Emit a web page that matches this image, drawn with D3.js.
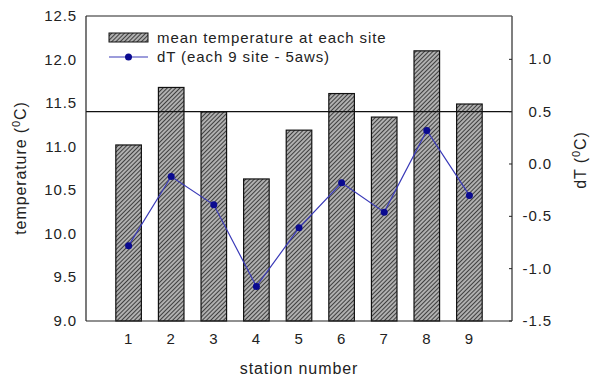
<!DOCTYPE html>
<html>
<head>
<meta charset="utf-8">
<script src="https://cdn.jsdelivr.net/npm/d3@7"></script>
<style>
  body { margin: 0; background: #fff; }
  text { font-family: "Liberation Sans", Arial, sans-serif; fill: #222; letter-spacing: 0.9px; }
</style>
</head>
<body>
<div id="chart"></div>
<script>
"use strict";

const stations = [1, 2, 3, 4, 5, 6, 7, 8, 9];
const meanTemp = [11.02, 11.68, 11.40, 10.63, 11.19, 11.61, 11.34, 12.10, 11.49];
const dT = [-0.78, -0.12, -0.39, -1.17, -0.61, -0.18, -0.46, 0.32, -0.30];
const leftTicks = [9.0, 9.5, 10.0, 10.5, 11.0, 11.5, 12.0, 12.5];
const rightTicks = [-1.5, -1.0, -0.5, 0.0, 0.5, 1.0];
const refLine = 0.5;

const size = { width: 597, height: 380, left: 86, right: 512, top: 16, bottom: 321 };

const svg = d3.select("#chart").append("svg")
    .attr("width", size.width)
    .attr("height", size.height);

// hatch pattern for bars
const pat = svg.append("defs").append("pattern")
    .attr("id", "hatch")
    .attr("patternUnits", "userSpaceOnUse")
    .attr("width", 3).attr("height", 3)
    .attr("patternTransform", "rotate(45)");
pat.append("rect").attr("width", 3).attr("height", 3).attr("fill", "#b0b0b0");
pat.append("line").attr("x1", 0).attr("y1", 0).attr("x2", 0).attr("y2", 3)
    .attr("stroke", "#2a2a2a").attr("stroke-width", 1.7);

const x = d3.scaleLinear().domain([0, 10]).range([size.left, size.right]);
const yL = d3.scaleLinear().domain([9, 12.5]).range([size.bottom, size.top]);
const yR = d3.scaleLinear().domain([-1.5, 1.414]).range([size.bottom, size.top]);
const barW = x(0.6) - x(0);

// bars
svg.selectAll(".bar")
    .data(stations)
    .enter()
    .append("rect")
    .attr("class", "bar")
    .attr("x", (d) => x(d) - barW / 2)
    .attr("y", (d, i) => yL(meanTemp[i]))
    .attr("width", barW)
    .attr("height", (d, i) => yL(9) - yL(meanTemp[i]))
    .attr("fill", "url(#hatch)")
    .attr("stroke", "#111")
    .attr("stroke-width", 1.2);

// reference line
svg.append("line")
    .attr("x1", size.left).attr("x2", size.right)
    .attr("y1", yR(refLine)).attr("y2", yR(refLine))
    .attr("stroke", "#111").attr("stroke-width", 1.2);

// frame
svg.append("line").attr("x1", size.left).attr("x2", size.right)
    .attr("y1", size.top).attr("y2", size.top).attr("stroke", "#222").attr("stroke-width", 1.2);
svg.append("line").attr("x1", size.left).attr("x2", size.right)
    .attr("y1", size.bottom).attr("y2", size.bottom).attr("stroke", "#222").attr("stroke-width", 1.2);
svg.append("line").attr("x1", size.left).attr("x2", size.left)
    .attr("y1", size.top).attr("y2", size.bottom).attr("stroke", "#222").attr("stroke-width", 1.2);
svg.append("line").attr("x1", size.right).attr("x2", size.right)
    .attr("y1", size.top).attr("y2", size.bottom).attr("stroke", "#555").attr("stroke-width", 1.5);

// dT line
const line = d3.line()
    .x((d) => x(d))
    .y((d, i) => yR(dT[i]));
svg.append("path")
    .datum(stations)
    .attr("d", line)
    .attr("fill", "none")
    .attr("stroke", "#3a3ab8")
    .attr("stroke-width", 1.2);
svg.selectAll(".dot")
    .data(stations)
    .enter()
    .append("circle")
    .attr("cx", (d) => x(d))
    .attr("cy", (d, i) => yR(dT[i]))
    .attr("r", 3.5)
    .attr("fill", "#0a0a90");

// left axis labels
svg.selectAll(".ltick")
    .data(leftTicks)
    .enter()
    .append("text")
    .attr("x", 77)
    .attr("y", (d) => yL(d) + 5)
    .attr("text-anchor", "end")
    .style("font-size", "15px")
    .text((d) => d3.format(".1f")(d));

// right axis ticks and labels
svg.selectAll(".rtickmark")
    .data(rightTicks)
    .enter()
    .append("line")
    .attr("x1", size.right - 3).attr("x2", size.right)
    .attr("y1", (d) => yR(d)).attr("y2", (d) => yR(d))
    .attr("stroke", "#222");
svg.selectAll(".rtick")
    .data(rightTicks)
    .enter()
    .append("text")
    .attr("x", 552)
    .attr("y", (d) => yR(d) + 5)
    .attr("text-anchor", "end")
    .style("font-size", "15px")
    .text((d) => d3.format(".1f")(d).replace("−", "-"));

// bottom labels
svg.selectAll(".btick")
    .data(stations)
    .enter()
    .append("text")
    .attr("x", (d) => x(d))
    .attr("y", 344)
    .attr("text-anchor", "middle")
    .style("font-size", "15px")
    .text((d) => d);

// axis titles
svg.append("text")
    .attr("x", (size.left + size.right) / 2)
    .attr("y", 374)
    .attr("text-anchor", "middle")
    .style("font-size", "16px")
    .text("station number");

function degTitle(t, label) {
    t.append("tspan").text(label + " (");
    t.append("tspan").attr("dy", -6).style("font-size", "11px").text("0");
    t.append("tspan").attr("dy", 6).text("C)");
}

const ly = svg.append("text")
    .attr("transform", "translate(26," + 168 + ") rotate(-90)")
    .attr("text-anchor", "middle")
    .style("font-size", "16px");
degTitle(ly, "temperature");

const ry = svg.append("text")
    .attr("transform", "translate(586," + 160 + ") rotate(-90)")
    .attr("text-anchor", "middle")
    .style("font-size", "16px");
degTitle(ry, "dT");

// legend
const legend = svg.append("g");
legend.append("rect")
    .attr("x", 109).attr("y", 33).attr("width", 39).attr("height", 9)
    .attr("fill", "url(#hatch)").attr("stroke", "#111");
legend.append("text")
    .attr("x", 157).attr("y", 43)
    .style("font-size", "15px")
    .text("mean temperature at each site");
legend.append("line")
    .attr("x1", 109).attr("x2", 148).attr("y1", 57).attr("y2", 57)
    .attr("stroke", "#3a3ab8").attr("stroke-width", 1.2);
legend.append("circle")
    .attr("cx", 128.5).attr("cy", 57).attr("r", 3.5).attr("fill", "#0a0a90");
legend.append("text")
    .attr("x", 157).attr("y", 62)
    .style("font-size", "15px")
    .text("dT (each 9 site - 5aws)");
</script>
</body>
</html>
